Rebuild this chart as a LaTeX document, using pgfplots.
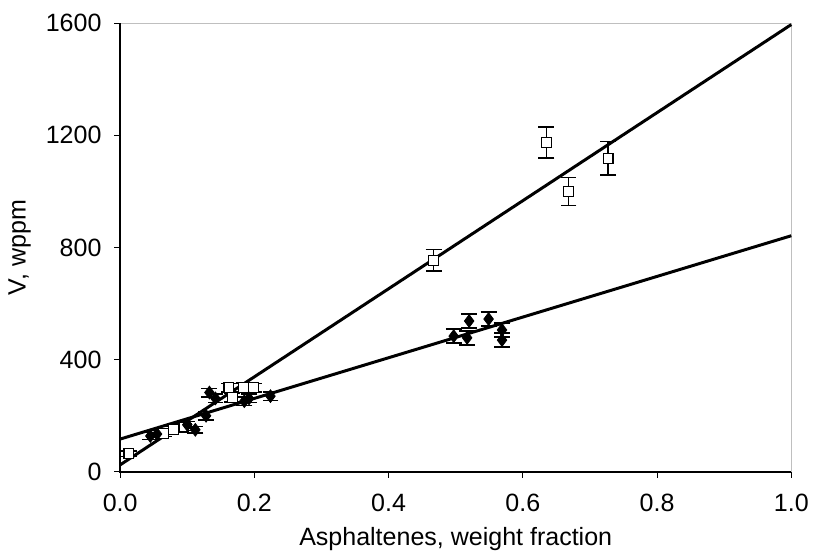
\documentclass[border={0pt 0pt 0pt 3pt}]{standalone}
\usepackage{pgfplots}
\pgfplotsset{compat=1.18}
\usepackage{fontspec}
\setmainfont{Liberation Sans}
\begin{document}
\fontsize{12.6}{15}\selectfont
\begin{tikzpicture}
\begin{axis}[
  scale only axis,
  width=338pt, height=226pt,
  xmin=0, xmax=1, ymin=0, ymax=1600,
  xtick={0,0.2,0.4,0.6,0.8,1.0},
  xticklabels={0.0,0.2,0.4,0.6,0.8,1.0},
  ytick={0,400,800,1200,1600},
  yticklabels={0,400,800,1200,1600},
  tick align=outside, tick pos=left,
  major tick length=3pt,
  tick style={black, thin},
  axis line style={gray!50, thin},
  xticklabel style={yshift=-4pt},
  yticklabel style={xshift=-2pt},
  xlabel={Asphaltenes, weight fraction},
  ylabel={V, wppm},
  xlabel style={yshift=1pt},
  ylabel style={yshift=-1pt},
  clip=false,
]
\addplot[black, line width=1.5pt] coordinates {(0,25) (1,1595)};
\addplot[black, line width=1.5pt] coordinates {(0,117) (1,842)};
\addplot[only marks, mark=square*, mark size=2.5pt,
  mark options={fill=white, draw=black, line width=0.6pt},
  error bars/.cd, y dir=both, y explicit,
  error bar style={black, line width=0.8pt},
  error mark options={rotate=90, mark size=4pt, line width=0.8pt}]
  table[x=x, y=y, y error=e] {
x y e
0.013 65 10
0.065 138 12
0.080 152 12
0.095 160 12
0.162 300 15
0.167 265 15
0.184 302 15
0.199 300 15
0.467 755 38
0.635 1175 55
0.668 1000 50
0.727 1118 60
};
\addplot[only marks, mark=diamond*, mark size=3.2pt,
  mark options={fill=black, draw=black},
  error bars/.cd, y dir=both, y explicit,
  error bar style={black, line width=0.8pt},
  error mark options={rotate=90, mark size=4pt, line width=0.8pt}]
  table[x=x, y=y, y error=e] {
x y e
0.045 128 12
0.055 135 12
0.100 168 12
0.112 150 12
0.128 200 15
0.133 283 15
0.142 262 15
0.185 252 15
0.192 262 15
0.224 270 15
0.497 484 25
0.517 478 25
0.520 538 25
0.549 545 25
0.569 506 25
0.569 470 25
};
\draw[black, line width=0.9pt] (rel axis cs:0,1) -- (rel axis cs:0,0) -- (rel axis cs:1,0);
\end{axis}
\end{tikzpicture}
\end{document}
